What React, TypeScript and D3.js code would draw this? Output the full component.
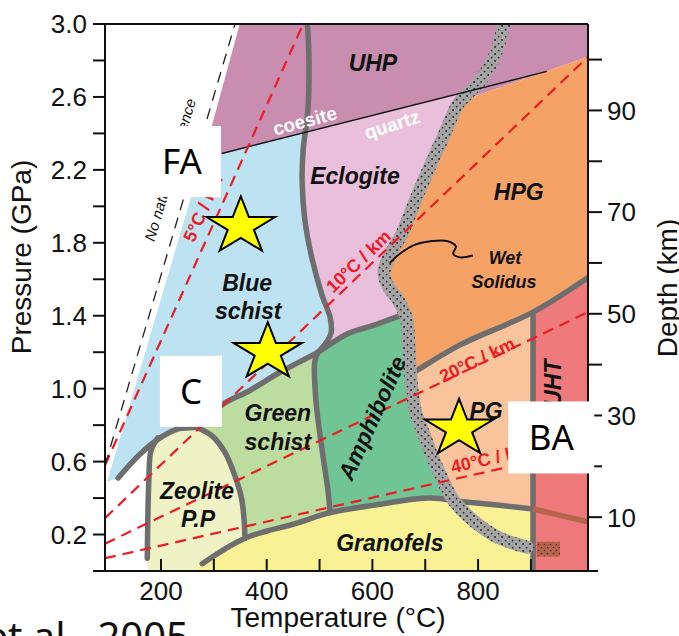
import React from "react";
import * as d3 from "d3";

type Pt = [number, number];

// ---------- axes ----------
const temperatureDomain: Pt = [94, 1008]; // °C
const pressureDomain: Pt = [0, 3]; // GPa
const depthDomain: Pt = [0, 107]; // km

const pressureTicks = [0.2, 0.4, 0.6, 0.8, 1.0, 1.2, 1.4, 1.6, 1.8, 2.0, 2.2, 2.4, 2.6, 2.8, 3.0];
const pressureTickLabels = [0.2, 0.6, 1.0, 1.4, 1.8, 2.2, 2.6, 3.0];
const temperatureTicks = [200, 300, 400, 500, 600, 700, 800, 900];
const temperatureTickLabels = [200, 400, 600, 800];
const depthTicks = [10, 20, 30, 40, 50, 60, 70, 80, 90, 100];
const depthTickLabels = [10, 30, 50, 70, 90];

// ---------- facies fields, [T °C, P GPa] ----------
const uhpField: Pt[] = [[349, 3.0], [1008, 3.0], [1008, 2.82], [771, 2.58], [315, 2.25], [278, 2.25]];
const blueschistField: Pt[] = [
  [281, 2.29], [315, 2.29], [474, 2.41], [469, 2.31], [467, 2.14], [472, 1.93], [486, 1.71],
  [505, 1.51], [520, 1.39], [522, 1.31], [512, 1.25], [497, 1.2], [425, 1.09], [368, 0.99],
  [315, 0.91], [293, 0.84], [266, 0.79], [232, 0.78], [198, 0.73], [160, 0.64], [119, 0.51], [98, 0.49],
];
const eclogiteField: Pt[] = [
  [474, 2.41], [777, 2.63], [762, 2.56], [737, 2.4], [709, 2.22], [681, 2.03], [656, 1.85],
  [631, 1.72], [622, 1.64], [630, 1.56], [648, 1.49], [664, 1.39], [658, 1.4], [605, 1.35],
  [552, 1.3], [497, 1.2], [512, 1.25], [522, 1.31], [520, 1.39], [505, 1.51], [486, 1.71],
  [472, 1.93], [467, 2.14], [469, 2.31],
];
const hpgField: Pt[] = [
  [771, 2.58], [1008, 2.82], [1008, 1.61], [904, 1.42], [766, 1.24], [684, 1.1], [672, 1.08],
  [669, 1.24], [664, 1.39], [648, 1.49], [630, 1.56], [622, 1.64], [631, 1.72], [656, 1.85],
  [681, 2.03], [709, 2.22], [737, 2.4], [762, 2.56],
];
const pgField: Pt[] = [
  [672, 1.08], [684, 1.1], [766, 1.24], [904, 1.42], [904, 0.34], [841, 0.36], [771, 0.38],
  [753, 0.39], [722, 0.57], [696, 0.76], [681, 0.88], [673, 1.05],
];
const uhtField: Pt[] = [[904, 1.42], [1008, 1.61], [1008, 0], [904, 0]];
const amphiboliteField: Pt[] = [
  [497, 1.2], [552, 1.3], [605, 1.35], [658, 1.4], [664, 1.39], [669, 1.24], [673, 1.05],
  [681, 0.88], [696, 0.76], [722, 0.57], [753, 0.39], [709, 0.4], [601, 0.36], [520, 0.32],
  [516, 0.44], [505, 0.66], [493, 0.94], [491, 1.15],
];
const greenschistField: Pt[] = [
  [266, 0.79], [293, 0.84], [315, 0.91], [368, 0.99], [425, 1.09], [497, 1.2], [491, 1.15],
  [493, 0.94], [505, 0.66], [516, 0.44], [520, 0.32], [454, 0.26], [359, 0.18], [353, 0.39],
  [340, 0.52], [321, 0.65], [297, 0.74],
];
const zeoliteField: Pt[] = [
  [174, 0.07], [175, 0.28], [177, 0.5], [181, 0.66], [194, 0.73], [232, 0.78], [266, 0.79],
  [297, 0.74], [321, 0.65], [340, 0.52], [353, 0.39], [359, 0.18], [278, 0.04], [262, 0], [176, 0],
];
const granofelsField: Pt[] = [
  [278, 0.04], [359, 0.18], [454, 0.26], [520, 0.32], [601, 0.36], [709, 0.4], [771, 0.38],
  [841, 0.36], [904, 0.34], [904, 0], [262, 0],
];
const meltPatch: Pt[] = [[911, 0.16], [955, 0.16], [955, 0.08], [911, 0.08]];

// ---------- facies boundaries ----------
const blueEclogiteLine: Pt[] = [
  [476, 3.05], [480, 2.8], [478, 2.53], [469, 2.31], [467, 2.14], [472, 1.93], [486, 1.71],
  [505, 1.51], [520, 1.39], [522, 1.31], [512, 1.25], [497, 1.2],
];
const lowerBlueLine: Pt[] = [
  [664, 1.39], [658, 1.4], [605, 1.35], [552, 1.3], [497, 1.2], [425, 1.09], [368, 0.99],
  [315, 0.91], [293, 0.84], [266, 0.79], [232, 0.78], [198, 0.73], [160, 0.64], [119, 0.51],
];
const zeoliteDomeRight: Pt[] = [[266, 0.79], [297, 0.74], [321, 0.65], [340, 0.52], [353, 0.39], [359, 0.18]];
const zeoliteDomeLeft: Pt[] = [[194, 0.73], [181, 0.66], [177, 0.5], [175, 0.28], [174, 0.07]];
const greenAmphLine: Pt[] = [[497, 1.2], [491, 1.15], [493, 0.94], [505, 0.66], [516, 0.44], [520, 0.32]];
const granofelsLine: Pt[] = [
  [278, 0.04], [359, 0.18], [454, 0.26], [520, 0.32], [601, 0.36], [709, 0.4], [771, 0.38],
  [841, 0.36], [904, 0.34],
];
const granuliteLine: Pt[] = [[672, 1.08], [684, 1.1], [766, 1.24], [904, 1.42], [1008, 1.61]];
const uhtLine: Pt[] = [[904, 1.42], [904, 0]];
const meltLine: Pt[] = [[904, 0.34], [1008, 0.27]];
const coesiteQuartzLine: Pt[] = [[315, 2.29], [930, 2.74]];
const solidusBand: Pt[] = [
  [853, 3.05], [832, 2.83], [807, 2.7], [781, 2.62], [762, 2.56], [737, 2.4], [709, 2.22],
  [681, 2.03], [656, 1.85], [631, 1.72], [622, 1.64], [630, 1.56], [648, 1.49], [664, 1.39],
  [669, 1.24], [673, 1.05], [681, 0.88], [696, 0.76], [722, 0.57], [753, 0.39], [798, 0.26],
  [841, 0.18], [893, 0.13],
];
const wetSolidus: Pt[] = [
  [633, 1.69], [652, 1.74], [681, 1.79], [713, 1.81], [741, 1.81], [758, 1.78], [753, 1.74],
  [766, 1.72], [790, 1.73],
];

// ---------- geotherms ----------
const noNaturalOccurrence: Pt[] = [[94, 0.58], [340, 3.0]];
const geotherm5: Pt[] = [[94, 0.58], [469, 3.0]];
const geotherm10: Pt[] = [[94, 0.29], [1008, 2.82]];
const geotherm20: Pt[] = [[94, 0.15], [1008, 1.42]];
const geotherm40: Pt[] = [[94, 0.07], [1008, 0.67]];

// ---------- annotations (anchored in T, P) ----------
const faciesLabels = [
  { text: "UHP", T: 601, P: 2.79, angle: 0 },
  { text: "Eclogite", T: 567, P: 2.17, angle: 0 },
  { text: "HPG", T: 877, P: 2.08, angle: 0 },
  { text: "Blue", T: 363, P: 1.58, angle: 0 },
  { text: "schist", T: 365, P: 1.43, angle: 0 },
  { text: "Green", T: 421, P: 0.87, angle: 0 },
  { text: "schist", T: 421, P: 0.71, angle: 0 },
  { text: "Zeolite", T: 268, P: 0.44, angle: 0 },
  { text: "P.P", T: 270, P: 0.285, angle: 0 },
  { text: "Amphibolite", T: 599, P: 0.84, angle: -65.6 },
  { text: "PG", T: 815, P: 0.88, angle: 0 },
  { text: "Granofels", T: 633, P: 0.154, angle: 0 },
  { text: "UHT", T: 942, P: 1.03, angle: -90 },
];
const solidusLabels = [
  { text: "Wet", T: 851, P: 1.717 },
  { text: "Solidus", T: 849, P: 1.59 },
];
const phaseLabels = [
  { text: "coesite", T: 472, P: 2.47, angle: -15 },
  { text: "quartz", T: 637, P: 2.45, angle: -18 },
];
const geothermLabels = [
  { text: "5°C / km", T: 279, P: 1.99, line: geotherm5 },
  { text: "10°C / km", T: 573, P: 1.7, line: geotherm10 },
  { text: "20°C / km", T: 798, P: 1.16, line: geotherm20 },
  { text: "40°C / km", T: 824, P: 0.62, line: geotherm40 },
];
const samplePoints: Pt[] = [[351, 1.89], [402, 1.2], [764, 0.78]];
const callouts = [
  { text: "FA", T: 198, P: 2.44 },
  { text: "C", T: 198, P: 1.18 },
  { text: "BA", T: 857, P: 0.93 },
];

// ---------- styling ----------
const FONT = "'Liberation Sans', Arial, Helvetica, sans-serif";
const CALLOUT_FONT = "'Noto Sans', 'Open Sans', sans-serif";
const colors = {
  uhp: "#c98db0",
  eclogite: "#e9bfdb",
  blueschist: "#bde3f3",
  hpg: "#f5a266",
  pg: "#f9c39c",
  uht: "#ee7a7c",
  amphibolite: "#71c494",
  greenschist: "#bcdd9f",
  zeolite: "#eef2c5",
  granofels: "#f8f294",
  boundary: "#6e6e6e",
  geotherm: "#ec1c24",
  melt: "#b5654c",
};
const calloutBoxes: Record<string, { w: number; h: number; align: "start" | "middle" }> = {
  FA: { w: 61, h: 71, align: "start" },
  C: { w: 62, h: 71, align: "middle" },
  BA: { w: 86, h: 72, align: "middle" },
};

function starPath(cx: number, cy: number, r: number, sx: number) {
  const pts: string[] = [];
  for (let i = 0; i < 10; i++) {
    const a = -Math.PI / 2 + (i * Math.PI) / 5;
    const rr = i % 2 === 0 ? r : r * 0.382;
    pts.push(`${cx + Math.cos(a) * rr * sx},${cy + Math.sin(a) * rr}`);
  }
  return "M" + pts.join("L") + "Z";
}

export default function App() {
  const x = d3.scaleLinear().domain(temperatureDomain).range([105, 588]);
  const y = d3.scaleLinear().domain(pressureDomain).range([571, 24]);
  const yDepth = d3.scaleLinear().domain(depthDomain).range([568, 24]);

  const area = d3.line<Pt>().x((d) => x(d[0])).y((d) => y(d[1])).curve(d3.curveLinearClosed);
  const smooth = d3.line<Pt>().x((d) => x(d[0])).y((d) => y(d[1])).curve(d3.curveCatmullRom.alpha(0.5));
  const straight = d3.line<Pt>().x((d) => x(d[0])).y((d) => y(d[1]));
  const angleOf = (l: Pt[]) =>
    (Math.atan2(y(l[1][1]) - y(l[0][1]), x(l[1][0]) - x(l[0][0])) * 180) / Math.PI;

  const [xl, xr] = x.range();
  const [yb, yt] = y.range();

  const fields: [Pt[], string][] = [
    [uhpField, colors.uhp],
    [blueschistField, colors.blueschist],
    [eclogiteField, colors.eclogite],
    [hpgField, colors.hpg],
    [pgField, colors.pg],
    [uhtField, colors.uht],
    [amphiboliteField, colors.amphibolite],
    [greenschistField, colors.greenschist],
    [zeoliteField, colors.zeolite],
    [granofelsField, colors.granofels],
  ];
  const boundaries: Pt[][] = [
    blueEclogiteLine,
    lowerBlueLine,
    zeoliteDomeRight,
    zeoliteDomeLeft,
    greenAmphLine,
    granofelsLine,
    granuliteLine,
  ];
  const geotherms = [geotherm5, geotherm10, geotherm20, geotherm40];

  const facies = { fontFamily: FONT, fontWeight: 700, fontStyle: "italic" as const, fill: "#111" };

  return (
    <svg
      width={679}
      height={636}
      style={{ position: "absolute", left: 0, top: 0, background: "#fff" }}
    >
      <defs>
        <clipPath id="plotArea">
          <rect x={xl} y={yt} width={xr - xl} height={yb - yt} />
        </clipPath>
        <pattern id="solidusDots" width="7" height="7" patternUnits="userSpaceOnUse">
          <rect width="7" height="7" fill="#a4a4a4" />
          <circle cx="1.6" cy="1.6" r="0.9" fill="#1a1a1a" />
          <circle cx="5.1" cy="5.0" r="0.9" fill="#1a1a1a" />
        </pattern>
        <pattern id="meltDots" width="6" height="6" patternUnits="userSpaceOnUse">
          <rect width="6" height="6" fill={colors.melt} />
          <circle cx="1.5" cy="1.5" r="0.8" fill="#4a2418" />
          <circle cx="4.5" cy="4.5" r="0.8" fill="#4a2418" />
        </pattern>
      </defs>

      <rect x={0} y={0} width={679} height={636} fill="#fff" />

      <g clipPath="url(#plotArea)">
        {fields.map(([pts, fill], i) => (
          <path key={`f${i}`} d={area(pts) || ""} fill={fill} />
        ))}
        <path d={area(meltPatch) || ""} fill="url(#meltDots)" />

        {boundaries.map((b, i) => (
          <path
            key={`b${i}`}
            d={smooth(b) || ""}
            fill="none"
            stroke={colors.boundary}
            strokeWidth={5.5}
            strokeLinecap="round"
            strokeLinejoin="round"
          />
        ))}
        <path d={straight(uhtLine) || ""} stroke={colors.boundary} strokeWidth={5.5} />
        <path d={straight(meltLine) || ""} stroke={colors.melt} strokeWidth={5.5} />

        <path
          d={smooth(solidusBand) || ""}
          fill="none"
          stroke="url(#solidusDots)"
          strokeWidth={13}
          strokeLinecap="round"
          strokeLinejoin="round"
        />
        <path d={straight(coesiteQuartzLine) || ""} stroke="#111" strokeWidth={1.4} />
        <path d={smooth(wetSolidus) || ""} fill="none" stroke="#111" strokeWidth={2} />

        {geotherms.map((g, i) => (
          <path
            key={`g${i}`}
            d={straight(g) || ""}
            stroke={colors.geotherm}
            strokeWidth={2.2}
            strokeDasharray="11 7"
            fill="none"
          />
        ))}
        <path
          d={straight(noNaturalOccurrence) || ""}
          stroke="#222"
          strokeWidth={1.3}
          strokeDasharray="11 8"
          fill="none"
        />

        {faciesLabels.map((l, i) => (
          <text
            key={`l${i}`}
            transform={`translate(${x(l.T)},${y(l.P)}) rotate(${l.angle})`}
            textAnchor="middle"
            dy="0.36em"
            fontSize={23}
            {...facies}
          >
            {l.text}
          </text>
        ))}
        {solidusLabels.map((l, i) => (
          <text key={`s${i}`} x={x(l.T)} y={y(l.P)} dy="0.36em" textAnchor="middle" fontSize={18} {...facies}>
            {l.text}
          </text>
        ))}
        {phaseLabels.map((l, i) => (
          <text
            key={`p${i}`}
            transform={`translate(${x(l.T)},${y(l.P)}) rotate(${l.angle})`}
            textAnchor="middle"
            dy="0.36em"
            fontSize={19}
            fontFamily={FONT}
            fontWeight={700}
            fill="#fff"
          >
            {l.text}
          </text>
        ))}
        {geothermLabels.map((l, i) => (
          <text
            key={`gl${i}`}
            transform={`translate(${x(l.T)},${y(l.P)}) rotate(${angleOf(l.line)})`}
            textAnchor="middle"
            dy="0.36em"
            fontSize={18}
            fontFamily={FONT}
            fontWeight={700}
            fill={colors.geotherm}
          >
            {l.text}
          </text>
        ))}
        <text
          transform={`translate(${x(217)},${y(2.2)}) rotate(${angleOf(noNaturalOccurrence)})`}
          textAnchor="middle"
          dy="0.36em"
          fontSize={15}
          fontFamily={FONT}
          fontStyle="italic"
          fill="#111"
        >
          No natural occurrence
        </text>
      </g>

      {/* frame and axes */}
      <g stroke="#111" strokeWidth={2} fill="none">
        <line x1={xl - 12} x2={xr} y1={yt} y2={yt} />
        <line x1={xl - 12} x2={xr + 10} y1={yb} y2={yb} />
        <line x1={xl} x2={xl} y1={yt} y2={yb} />
        <line x1={xr} x2={xr} y1={yt} y2={yb} />
        {pressureTicks.map((p) => (
          <line key={`pt${p}`} x1={xl - 12} x2={xl} y1={y(p)} y2={y(p)} />
        ))}
        {temperatureTicks.map((t) => (
          <line key={`tt${t}`} x1={x(t)} x2={x(t)} y1={yb} y2={yb - 12} />
        ))}
        {depthTicks.map((d) => (
          <line key={`dt${d}`} x1={xr} x2={xr + 14} y1={yDepth(d)} y2={yDepth(d)} />
        ))}
      </g>
      <g fontFamily={FONT} fontSize={26} fill="#111">
        {pressureTickLabels.map((p) => (
          <text key={`pl${p}`} x={87} y={y(p)} dy="0.36em" textAnchor="end">
            {p.toFixed(1)}
          </text>
        ))}
        {temperatureTickLabels.map((t) => (
          <text key={`tl${t}`} x={x(t)} y={600} textAnchor="middle">
            {t}
          </text>
        ))}
        {depthTickLabels.map((d) => (
          <text key={`dl${d}`} x={607} y={yDepth(d)} dy="0.36em" textAnchor="start">
            {d}
          </text>
        ))}
      </g>
      <g fontFamily={FONT} fontSize={28} fill="#111" textAnchor="middle">
        <text transform="translate(31,257) rotate(-90)">Pressure (GPa)</text>
        <text x={338} y={627}>Temperature (°C)</text>
        <text transform="translate(677,288) rotate(-90)">Depth (km)</text>
      </g>
      <text x={189} y={651} textAnchor="end" fontFamily={CALLOUT_FONT} fontSize={40} fill="#111">
        et al., 2005
      </text>

      {/* sample locations */}
      {samplePoints.map((s, i) => (
        <path
          key={`star${i}`}
          d={starPath(x(s[0]), y(s[1]), 30, 1.2)}
          fill="#ffff00"
          stroke="#000"
          strokeWidth={2}
          strokeLinejoin="miter"
        />
      ))}

      {/* sample tags */}
      {callouts.map((c) => {
        const box = calloutBoxes[c.text];
        const bx = x(c.T);
        const by = y(c.P);
        return (
          <g key={c.text}>
            <rect x={bx} y={by} width={box.w} height={box.h} fill="#fff" />
            <text
              x={box.align === "start" ? bx + 2 : bx + box.w / 2}
              y={by + box.h / 2}
              dy="0.36em"
              textAnchor={box.align}
              fontFamily={CALLOUT_FONT}
              fontSize={35}
              fill="#000"
            >
              {c.text}
            </text>
          </g>
        );
      })}
    </svg>
  );
}
